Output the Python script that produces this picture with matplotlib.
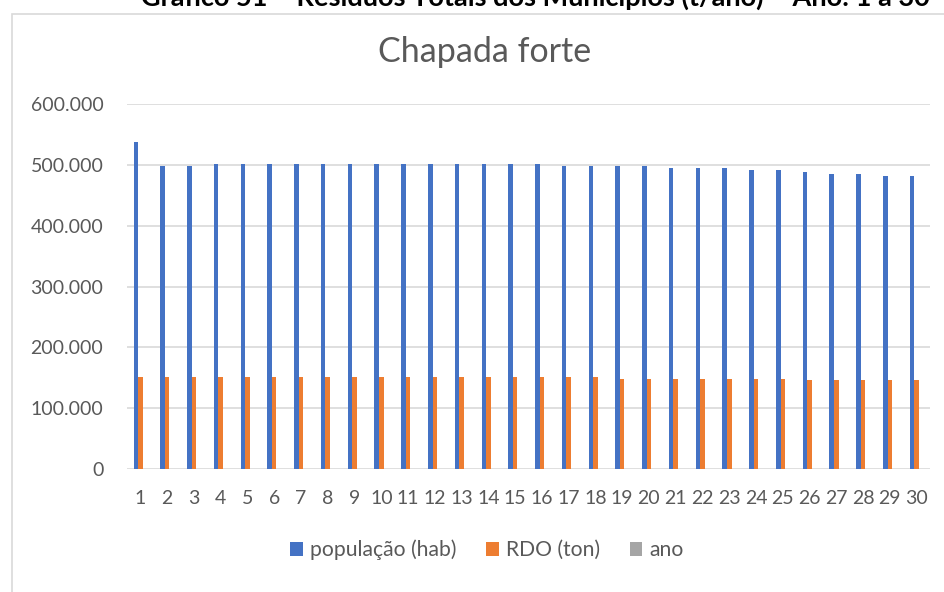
import matplotlib
matplotlib.use("Agg")
import matplotlib.pyplot as plt
from matplotlib.patches import Rectangle
from matplotlib.ticker import FuncFormatter
import numpy as np

plt.rcParams['font.family'] = ['Lato', 'DejaVu Sans']

anos = list(range(1, 31))
populacao = [537000, 498000, 498000, 501500, 501500, 501500, 501500, 501500, 501500, 501500,
             501500, 501500, 501500, 501500, 501000, 501000, 498000, 498000, 498000, 498000,
             494500, 494500, 494500, 491700, 491700, 488500, 485700, 485700, 482400, 482400]
rdo = [151500] * 18 + [148500] * 7 + [145500] * 5
ano_vals = anos
series_names = ["população (hab)", "RDO (ton)", "ano"]
colors = ["#4472C4", "#ED7D31", "#A5A5A5"]
yticks = [0, 100000, 200000, 300000, 400000, 500000, 600000]

W, H = 944, 592
fig = plt.figure(figsize=(W / 100, H / 100), dpi=100)

# chart border
fig.patches.append(Rectangle((12 / W, -0.05), 1.2, 1 - 14 / H + 0.05, transform=fig.transFigure,
                             fill=False, edgecolor="#D9D9D9", linewidth=1.2))

# caption at top (partly cut off, as in the source)
fig.text(535 / W, 1 - 6 / H, "Gráfico 51 – Resíduos Totais dos Municípios (t/ano) – Ano: 1 a 30",
         ha="center", va="baseline", fontsize=19.5, fontweight="bold", color="black")

ax = fig.add_axes([127 / W, 1 - 469 / H, (930 - 127) / W, (469 - 104) / H])
x = np.array(anos, dtype=float)
bw = 0.17
for i, (vals, c, name) in enumerate(zip([populacao, rdo, ano_vals], colors, series_names)):
    ax.bar(x + (i - 1) * bw, vals, width=bw, color=c, label=name, zorder=3, linewidth=0)

ax.set_xlim(0.5, 30.5)
ax.set_ylim(0, 600000)
ax.set_yticks(yticks)
ax.yaxis.set_major_formatter(FuncFormatter(lambda v, p: "0" if v == 0 else f"{int(v):,}".replace(",", ".")))
ax.set_xticks(anos)
ax.set_xticklabels([str(a) for a in anos])
ax.grid(axis="y", color="#D9D9D9", linewidth=1.2, zorder=0)
for s in ax.spines.values():
    s.set_visible(False)
ax.tick_params(axis="both", length=0, labelsize=14, colors="#595959")
ax.tick_params(axis="y", pad=17)
ax.tick_params(axis="x", pad=15)

fig.text(485 / W, 1 - 52 / H, "Chapada forte", ha="center", va="center", fontsize=24.5, color="#595959")

handles, labels = ax.get_legend_handles_labels()
leg = fig.legend(handles, labels, loc="center", bbox_to_anchor=(487 / W, 1 - 550 / H), ncol=3,
                 frameon=False, fontsize=15.2, handlelength=0.6, handleheight=0.6, handletextpad=0.35,
                 columnspacing=1.4)
for t in leg.get_texts():
    t.set_color("#595959")

fig.savefig("out.png", dpi=100)
